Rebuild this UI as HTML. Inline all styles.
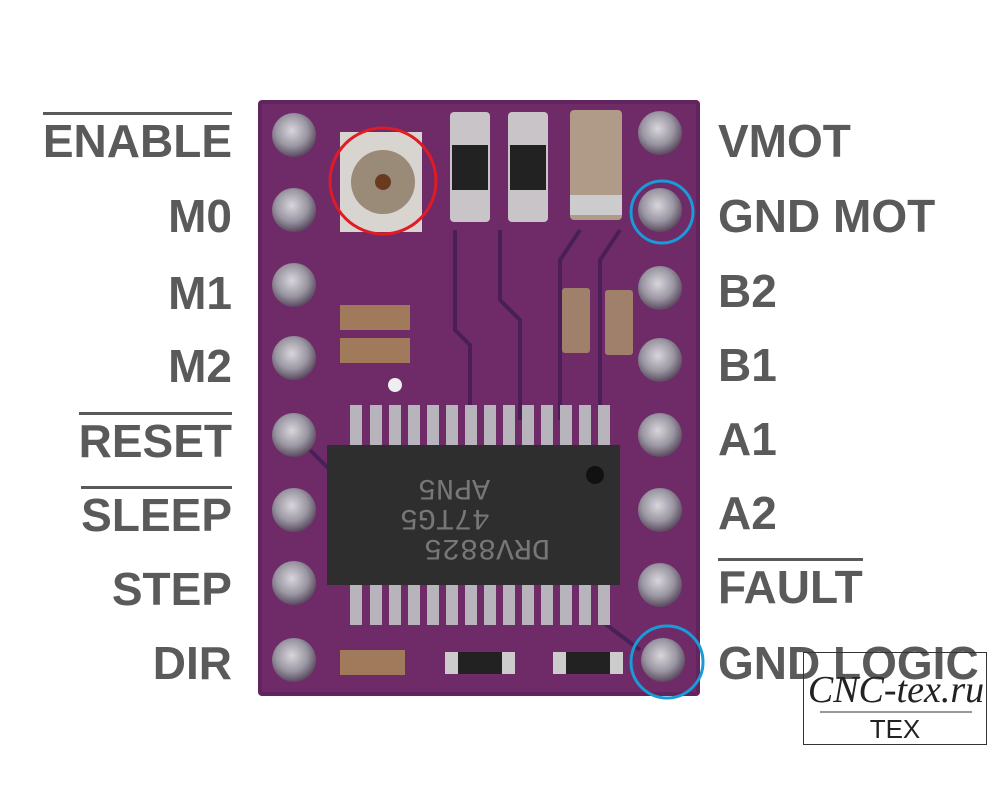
<!DOCTYPE html>
<html><head><style>
body{margin:0;width:1000px;height:800px;background:#fff;position:relative;overflow:hidden;font-family:"Liberation Sans",sans-serif}
.l{position:absolute;font-weight:bold;font-size:46px;color:#5a5a5a;line-height:1}
.L{right:768px;text-align:right}
.R{left:718px}
.ov{border-top:3px solid #5a5a5a;padding-top:3px}
</style></head><body>
<svg width="1000" height="800" style="position:absolute;left:0;top:0">
<defs>
<radialGradient id="pin" cx="45%" cy="40%" r="60%"><stop offset="0" stop-color="#d8d6dc"/><stop offset="0.6" stop-color="#9a96a2"/><stop offset="1" stop-color="#5b4a60"/></radialGradient>
</defs>
<rect x="258" y="100" width="442" height="596" rx="4" fill="#62245f"/>
<rect x="262" y="104" width="434" height="588" fill="#6e2b68"/>
<g stroke="#4a1f57" stroke-width="4" fill="none">
<path d="M455 230 V330 L470 345 V420"/><path d="M500 230 V300 L520 320 V420"/>
<path d="M580 230 L560 260 V420"/><path d="M620 230 L600 260 V420"/>
<path d="M330 470 L300 440"/><path d="M600 620 L640 650"/>
</g>
<g fill="url(#pin)">
<circle cx="294" cy="135" r="22"/><circle cx="294" cy="210" r="22"/><circle cx="294" cy="285" r="22"/><circle cx="294" cy="358" r="22"/>
<circle cx="294" cy="435" r="22"/><circle cx="294" cy="510" r="22"/><circle cx="294" cy="583" r="22"/><circle cx="294" cy="660" r="22"/>
<circle cx="660" cy="133" r="22"/><circle cx="660" cy="210" r="22"/><circle cx="660" cy="288" r="22"/><circle cx="660" cy="360" r="22"/>
<circle cx="660" cy="435" r="22"/><circle cx="660" cy="510" r="22"/><circle cx="660" cy="585" r="22"/><circle cx="663" cy="660" r="22"/>
</g>
<rect x="340" y="132" width="82" height="100" fill="#d8d4d0"/>
<circle cx="383" cy="182" r="32" fill="#9a8a78"/><circle cx="383" cy="182" r="8" fill="#6a3a20"/>
<rect x="450" y="112" width="40" height="110" rx="4" fill="#c8c4c8"/><rect x="452" y="145" width="36" height="45" fill="#222"/>
<rect x="508" y="112" width="40" height="110" rx="4" fill="#c8c4c8"/><rect x="510" y="145" width="36" height="45" fill="#222"/>
<rect x="570" y="110" width="52" height="110" rx="4" fill="#b09a88"/><rect x="570" y="195" width="52" height="20" fill="#ccc"/>
<rect x="340" y="305" width="70" height="25" fill="#a07a5a"/><rect x="340" y="338" width="70" height="25" fill="#a07a5a"/>
<rect x="562" y="288" width="28" height="65" rx="3" fill="#a0806a"/><rect x="605" y="290" width="28" height="65" rx="3" fill="#a0806a"/>
<circle cx="395" cy="385" r="7" fill="#eee"/>
<g fill="#b8b4bc">
<rect x="350" y="405" width="12" height="42"/><rect x="370" y="405" width="12" height="42"/><rect x="389" y="405" width="12" height="42"/><rect x="408" y="405" width="12" height="42"/><rect x="427" y="405" width="12" height="42"/><rect x="446" y="405" width="12" height="42"/><rect x="465" y="405" width="12" height="42"/><rect x="484" y="405" width="12" height="42"/><rect x="503" y="405" width="12" height="42"/><rect x="522" y="405" width="12" height="42"/><rect x="541" y="405" width="12" height="42"/><rect x="560" y="405" width="12" height="42"/><rect x="579" y="405" width="12" height="42"/><rect x="598" y="405" width="12" height="42"/>
<rect x="350" y="583" width="12" height="42"/><rect x="370" y="583" width="12" height="42"/><rect x="389" y="583" width="12" height="42"/><rect x="408" y="583" width="12" height="42"/><rect x="427" y="583" width="12" height="42"/><rect x="446" y="583" width="12" height="42"/><rect x="465" y="583" width="12" height="42"/><rect x="484" y="583" width="12" height="42"/><rect x="503" y="583" width="12" height="42"/><rect x="522" y="583" width="12" height="42"/><rect x="541" y="583" width="12" height="42"/><rect x="560" y="583" width="12" height="42"/><rect x="579" y="583" width="12" height="42"/><rect x="598" y="583" width="12" height="42"/>
</g>
<rect x="327" y="445" width="293" height="140" fill="#2e2e2e"/>
<circle cx="595" cy="475" r="9" fill="#111"/>
<g transform="rotate(180 450 515)" font-family="Liberation Mono" font-size="30" fill="#777">
<text x="350" y="490">DRV8825</text><text x="410" y="520">47TG5</text><text x="410" y="550">APN5</text></g>
<rect x="340" y="650" width="65" height="25" fill="#a07a5a"/>
<rect x="445" y="652" width="70" height="22" fill="#ccc"/><rect x="458" y="652" width="44" height="22" fill="#222"/>
<rect x="553" y="652" width="70" height="22" fill="#ccc"/><rect x="566" y="652" width="44" height="22" fill="#222"/>
<circle cx="383" cy="181" r="53" fill="none" stroke="#e01b24" stroke-width="3"/>
<circle cx="662" cy="212" r="31" fill="none" stroke="#1a9ad6" stroke-width="3"/>
<circle cx="667" cy="662" r="36" fill="none" stroke="#1a9ad6" stroke-width="3"/>
</svg>
<div class="l L ov" style="top:112px">ENABLE</div>
<div class="l L" style="top:193px">M0</div>
<div class="l L" style="top:270px">M1</div>
<div class="l L" style="top:343px">M2</div>
<div class="l L ov" style="top:412px">RESET</div>
<div class="l L ov" style="top:486px">SLEEP</div>
<div class="l L" style="top:566px">STEP</div>
<div class="l L" style="top:640px">DIR</div>
<div class="l R" style="top:118px">VMOT</div>
<div class="l R" style="top:193px">GND MOT</div>
<div class="l R" style="top:268px">B2</div>
<div class="l R" style="top:342px">B1</div>
<div class="l R" style="top:416px">A1</div>
<div class="l R" style="top:490px">A2</div>
<div class="l R ov" style="top:558px">FAULT</div>
<div class="l R" style="top:640px">GND LOGIC</div>
<svg width="1000" height="800" style="position:absolute;left:0;top:0">
<rect x="803.5" y="652.5" width="183" height="92" fill="none" stroke="#333"/>
<text x="896" y="702" text-anchor="middle" font-family="Liberation Serif" font-style="italic" font-size="38" fill="#222">CNC-tex.ru</text>
<line x1="820" y1="712" x2="972" y2="712" stroke="#333"/>
<text x="895" y="738" text-anchor="middle" font-family="Liberation Sans" font-size="26" fill="#222">TEX</text>
</svg>
</body></html>
